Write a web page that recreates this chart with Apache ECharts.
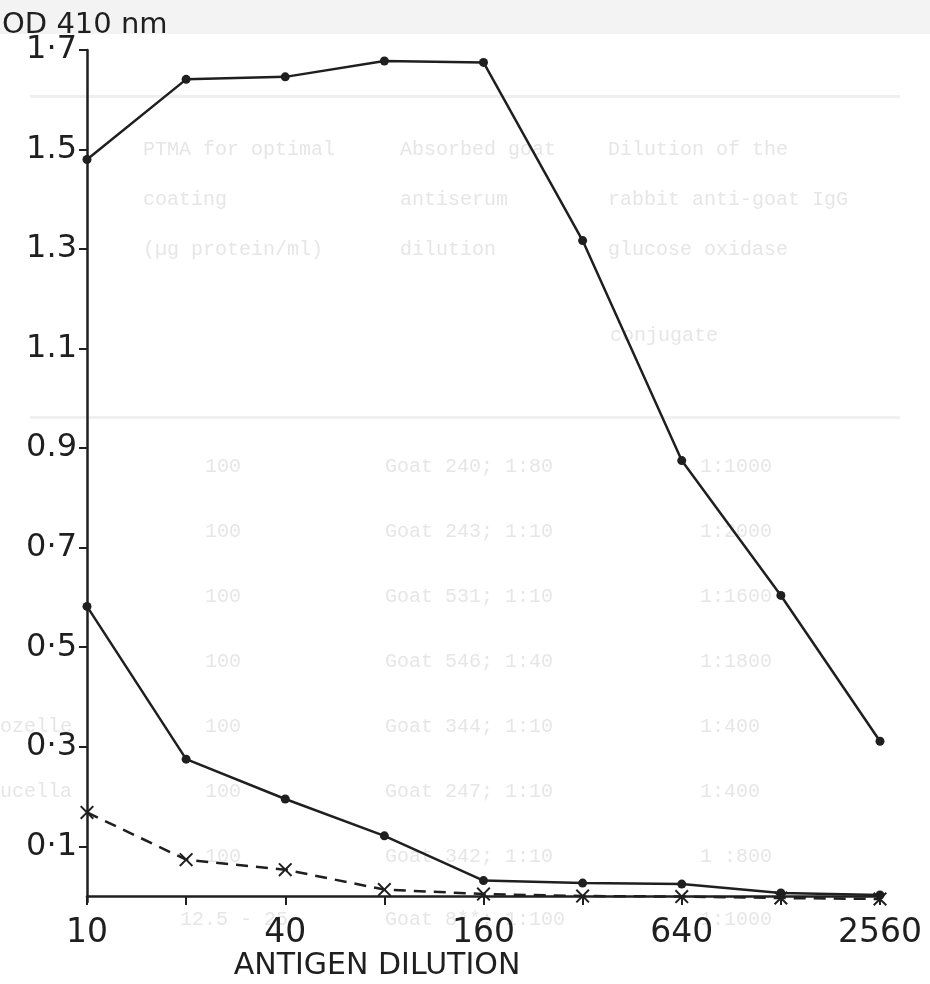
<!DOCTYPE html>
<html>
<head>
<meta charset="utf-8">
<script src="https://cdn.jsdelivr.net/npm/echarts@6/dist/echarts.min.js"></script>
<style>html,body{margin:0;padding:0;background:#fff}#c{width:930px;height:984px}</style>
</head>
<body>
<div id="c"></div>
<script>
// ---- data ----
const categories = ['10','20','40','80','160','320','640','1280','2560'];
const shownXLabels = ['10','40','160','640','2560'];
const seriesTop = [1.48, 1.641, 1.646, 1.678, 1.675, 1.317, 0.875, 0.604, 0.311];
const seriesMid = [0.582, 0.275, 0.195, 0.121, 0.031, 0.026, 0.024, 0.006, 0.002];
const seriesDash = [0.168, 0.073, 0.053, 0.013, 0.004, 0.0, -0.001, -0.004, -0.006];
const yTickValues = [0.1, 0.3, 0.5, 0.7, 0.9, 1.1, 1.3, 1.5, 1.7];
const yTickLabels = ['0·1', '0·3', '0·5', '0·7', '0.9', '1.1', '1.3', '1.5', '1·7'];
const yAxisTitle = 'OD 410 nm';
const xAxisTitle = 'ANTIGEN DILUTION';

// faint show-through text from the scanned page
const ghostText = [
  ['PTMA for optimal', 143, 150], ['Absorbed goat', 400, 150], ['Dilution of the', 608, 150],
  ['coating', 143, 200], ['antiserum', 400, 200], ['rabbit anti-goat IgG', 608, 200],
  ['(µg protein/ml)', 143, 250], ['dilution', 400, 250], ['glucose oxidase', 608, 250],
  ['conjugate', 610, 336],
  ['100', 205, 467], ['Goat 240; 1:80', 385, 467], ['1:1000', 700, 467],
  ['100', 205, 532], ['Goat 243; 1:10', 385, 532], ['1:2000', 700, 532],
  ['100', 205, 597], ['Goat 531; 1:10', 385, 597], ['1:1600', 700, 597],
  ['100', 205, 662], ['Goat 546; 1:40', 385, 662], ['1:1800', 700, 662],
  ['ozelle', 0, 727], ['100', 205, 727], ['Goat 344; 1:10', 385, 727], ['1:400', 700, 727],
  ['ucella', 0, 792], ['100', 205, 792], ['Goat 247; 1:10', 385, 792], ['1:400', 700, 792],
  ['100', 205, 857], ['Goat 342; 1:10', 385, 857], ['1 :800', 700, 857],
  ['12.5 - 25', 180, 920], ['Goat 8**; 1:100', 385, 920], ['1:1000', 700, 920]
];

const ink = '#1f1f1f';
const chart = echarts.init(document.getElementById('c'), null, {renderer: 'canvas'});

const graphics = [
  {type: 'rect', shape: {x: 0, y: 0, width: 930, height: 34}, style: {fill: '#f3f3f3'}, z: -10, silent: true},
  {type: 'rect', shape: {x: 30, y: 95, width: 870, height: 3}, style: {fill: '#efefef'}, z: -10, silent: true},
  {type: 'rect', shape: {x: 30, y: 416, width: 870, height: 3}, style: {fill: '#f0f0f0'}, z: -10, silent: true}
];
ghostText.forEach(function (t) {
  graphics.push({
    type: 'text', x: t[1], y: t[2], z: -5, silent: true,
    style: {text: t[0], fill: '#e6e6e6', font: '20px "Liberation Mono", "DejaVu Sans Mono", monospace', textVerticalAlign: 'middle'}
  });
});
graphics.push({
  type: 'text', x: 2, y: 25, z: 10,
  style: {text: yAxisTitle, fill: ink, font: '29px "DejaVu Sans", sans-serif', textVerticalAlign: 'middle'}
});
graphics.push({
  type: 'text', x: 377, y: 966, z: 10,
  style: {text: xAxisTitle, fill: ink, font: '30px "DejaVu Sans", sans-serif', textAlign: 'center', textVerticalAlign: 'middle'}
});

chart.setOption({
  animation: false,
  backgroundColor: '#ffffff',
  grid: {left: 87, right: 50, top: 50, bottom: 82, containLabel: false},
  xAxis: {
    type: 'category',
    data: categories,
    boundaryGap: false,
    axisLine: {lineStyle: {color: ink, width: 2.5}},
    axisTick: {show: true, length: 9, alignWithLabel: true, interval: 0, lineStyle: {color: ink, width: 2}},
    axisLabel: {
      interval: 0,
      margin: 15,
      color: ink,
      fontSize: 33,
      fontFamily: '"DejaVu Sans", sans-serif',
      formatter: function (v) { return shownXLabels.indexOf(v) >= 0 ? v : ''; }
    },
    splitLine: {show: false}
  },
  yAxis: {
    type: 'value',
    min: -0.012,
    max: 1.7,
    axisLine: {show: true, lineStyle: {color: ink, width: 2.5}},
    axisTick: {show: true, length: 8, customValues: yTickValues, lineStyle: {color: ink, width: 2}},
    axisLabel: {
      customValues: yTickValues,
      margin: 10,
      color: ink,
      fontSize: 32,
      fontFamily: '"DejaVu Sans", sans-serif',
      formatter: function (v) {
        for (let i = 0; i < yTickValues.length; i++) {
          if (Math.abs(yTickValues[i] - v) < 1e-6) return yTickLabels[i];
        }
        return '';
      }
    },
    splitLine: {show: false}
  },
  series: [
    {
      type: 'line', data: seriesTop, symbol: 'circle', symbolSize: 9, z: 3,
      itemStyle: {color: ink}, lineStyle: {color: ink, width: 2.5}
    },
    {
      type: 'line', data: seriesMid, symbol: 'circle', symbolSize: 9, z: 3,
      itemStyle: {color: ink}, lineStyle: {color: ink, width: 2.5}
    },
    {
      type: 'line', data: seriesDash, z: 3,
      symbol: 'path://M0,1L1,0L5,4L9,0L10,1L6,5L10,9L9,10L5,6L1,10L0,9L4,5Z',
      symbolSize: 14,
      itemStyle: {color: ink}, lineStyle: {color: ink, width: 2.5, type: [12, 8]}
    }
  ],
  graphic: graphics
});
</script>
</body>
</html>
